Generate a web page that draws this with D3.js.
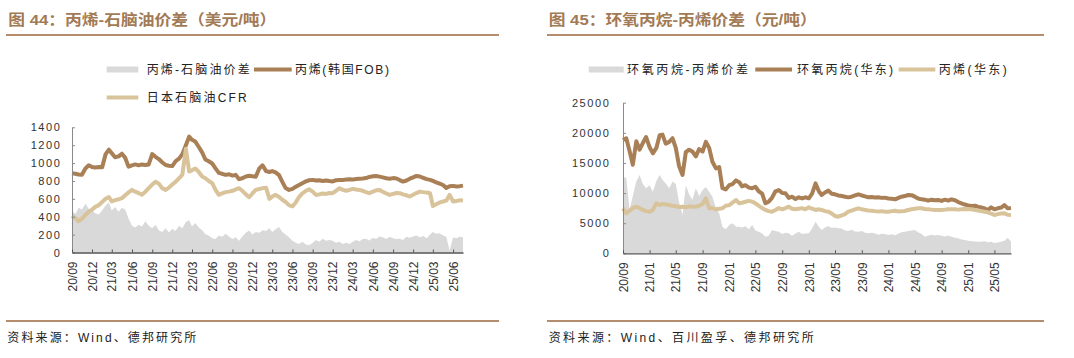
<!DOCTYPE html>
<html><head><meta charset="utf-8">
<script src="https://cdn.jsdelivr.net/npm/d3@7"></script>
<style>
body{margin:0;background:#fff;}
svg{display:block;font-family:"Liberation Sans","Noto Sans CJK SC",sans-serif;}
</style></head>
<body><svg id="c" width="1074" height="358"></svg>
<script>
// ---------- data ----------
const startDate = new Date(2020, 8, 1);   // semi-monthly observations (1st & 16th)
const nObs = 118;

const leftTicks = ["20/09","20/12","21/03","21/06","21/09","21/12","22/03","22/06","22/09","22/12","23/03","23/06","23/09","23/12","24/03","24/06","24/09","24/12","25/03","25/06"];
const leftYTicks = [0,200,400,600,800,1000,1200,1400];
const rightTicks = ["20/09","21/01","21/05","21/09","22/01","22/05","22/09","23/01","23/05","23/09","24/01","24/05","24/09","25/01","25/05"];
const rightYTicks = [0,5000,10000,15000,20000,25000];

const leftSeriesNames = ["丙烯-石脑油价差","丙烯(韩国FOB)","日本石脑油CFR"];
const rightSeriesNames = ["环氧丙烷-丙烯价差","环氧丙烷(华东)","丙烯(华东)"];

// 丙烯(韩国FOB), USD/t
const propyleneFOB = [885,880,872,870,940,975,955,950,955,952,1100,1150,1110,1065,1075,1105,1060,960,975,985,
975,985,978,985,1100,1070,1045,1010,978,970,967,1020,1050,1100,1200,1295,1260,1240,1180,1120,
1040,1020,995,940,890,880,868,875,860,868,820,830,850,858,852,848,940,975,910,900,
910,895,865,790,720,700,712,735,755,775,795,808,812,805,808,800,806,800,795,808,
810,812,815,818,815,822,825,828,832,845,852,856,848,840,830,825,832,828,810,793,
805,825,840,856,850,835,820,812,800,785,770,755,722,740,745,738,742,748];
// 日本石脑油CFR, USD/t
const naphthaCFR = [411,385,350,375,420,455,480,510,530,565,600,620,572,585,595,607,640,672,700,680,
665,645,680,720,760,790,770,720,700,725,760,790,830,870,1160,905,920,940,900,850,
830,800,775,700,645,660,675,681,690,705,719,690,650,618,660,700,710,720,725,600,
625,645,620,590,565,530,515,560,620,660,690,707,680,644,650,660,655,665,663,690,
719,700,690,700,712,705,700,690,675,663,680,695,700,680,660,644,655,665,663,650,
640,626,645,665,681,675,670,663,520,540,560,570,580,644,570,575,585,581];
// 丙烯-石脑油价差, USD/t
const leftSpread = [470,430,500,480,545,490,470,440,425,470,525,560,470,510,455,500,480,380,300,280,
310,290,350,300,270,310,250,230,270,225,265,240,300,270,340,360,290,330,280,250,
205,190,160,150,190,175,210,180,150,170,130,180,220,245,200,230,220,250,240,270,
230,260,285,230,200,170,130,110,95,120,90,80,110,140,120,155,130,140,130,110,
120,95,110,95,120,140,125,150,155,135,165,150,180,170,150,175,160,150,155,140,
175,165,180,190,170,185,160,200,230,210,215,190,175,20,170,160,175,170];

// 环氧丙烷(华东), CNY/t
const poEast = [18800,19100,17000,14700,18600,17200,18300,19300,17600,16600,17500,19600,19700,18200,18500,19100,17500,14500,13000,16800,
17200,16900,16100,17300,16900,18500,17500,15200,14100,14300,10800,10600,11300,11500,12100,11800,11100,11300,10900,10800,
11050,10300,9900,8300,8570,9200,10300,10500,10000,9950,9200,9400,9000,9300,9100,9300,9130,9900,11600,10300,
9680,10100,10400,9900,9800,9600,9500,9400,9290,9400,9600,9790,9600,9450,9290,9350,9250,9300,9200,9240,
9100,9050,8960,9200,9400,9500,9680,9650,9400,9100,8960,8900,8740,8900,8800,8850,8700,8900,8750,8960,
8800,8500,8300,8100,7950,7850,7900,7700,7630,7450,7190,7630,7300,7470,7600,8000,7460,7500];
// 丙烯(华东), CNY/t
const propyleneEast = [7470,6640,7100,7500,7740,7500,7190,7000,6910,7200,8300,8000,8200,8100,8020,7900,7800,7700,7740,7650,
7800,7740,7740,7900,8200,9130,7470,7500,7300,7400,7470,7900,8000,8400,8850,8300,8400,8550,8700,8580,
8300,7900,7500,7200,7000,6910,7200,7500,7300,7500,7740,7400,7300,7400,7500,7300,7630,7400,7200,7300,
7190,7000,6910,6600,6200,6080,6300,6500,6910,7100,7300,7470,7300,7200,7100,7080,7000,6950,7000,6900,
6910,7000,7050,6950,7000,7020,7200,7300,7400,7470,7470,7350,7300,7250,7200,7190,7200,7250,7300,7300,
7300,7250,7300,7350,7300,7300,7200,7100,7000,6910,6800,6600,6360,6500,6600,6640,6400,6360];
// 环氧丙烷-丙烯价差, CNY/t
const rightSpread = [12700,12500,7200,9500,11900,13000,11500,10800,11300,10200,12000,13000,12200,11600,10800,11900,11500,8500,6350,11300,
9800,8850,10800,9500,10500,11000,10200,9400,7500,6650,4420,4000,4700,4970,4400,4420,4300,4500,4000,4700,
3800,3590,3300,2760,2900,3870,3700,3590,3200,3400,3310,2900,3300,3590,3200,3300,3320,4100,5250,4400,
3870,4300,4530,4200,4300,4150,4100,3800,3700,3900,3600,3590,3700,3400,3320,3400,3300,3100,3250,3200,
3040,3150,3000,3300,3500,3590,3700,3800,3870,3500,3200,2760,2900,3100,2950,3040,2900,2800,2950,2760,
2600,2500,2300,2210,2100,2000,1950,1930,1900,2000,1850,1930,1700,1800,1930,2100,2600,1900];

// ---------- drawing ----------
const dates = d3.range(nObs).map(k => {
  const d = d3.timeMonth.offset(startDate, Math.floor(k / 2));
  if (k % 2) d.setDate(16);
  return d;
});
const parseTick = d3.timeParse("%y/%m");

const C = {brown:"#a97f56", tan:"#d9c39b", gray:"#d9d9d9", title:"#a27a55", rule:"#b38d6e", text:"#222"};
const svg = d3.select("#c");
svg.append("rect").attr("width",1074).attr("height",358).attr("fill","#fff");

function panel(o){
  const g = svg.append("g");
  // title
  g.append("text").attr("x",o.titleX).attr("y",25).attr("fill",C.title)
    .attr("font-size",15).attr("font-weight","bold")
    .attr("textLength",o.titleLen).attr("lengthAdjust","spacingAndGlyphs").text(o.title);
  g.append("line").attr("x1",o.ruleX1).attr("x2",o.ruleX2).attr("y1",35).attr("y2",35)
    .attr("stroke",C.rule).attr("stroke-width",2);
  g.append("line").attr("x1",o.ruleX1).attr("x2",o.ruleX2).attr("y1",321).attr("y2",321)
    .attr("stroke",C.rule).attr("stroke-width",2);
  g.append("text").attr("x",o.srcX).attr("y",342).attr("fill",C.text).attr("font-size",12)
    .attr("textLength",o.srcLen).attr("lengthAdjust","spacing").text(o.source);

  // legend
  o.legend.forEach(L => {
    if (L.area) {
      g.append("rect").attr("x",L.x1).attr("width",L.x2-L.x1).attr("y",L.y-3).attr("height",6).attr("fill",L.color);
    } else {
      g.append("line").attr("x1",L.x1).attr("x2",L.x2).attr("y1",L.y).attr("y2",L.y)
        .attr("stroke",L.color).attr("stroke-width",4);
    }
    g.append("text").attr("x",L.tx).attr("y",L.y).attr("dy","0.36em").attr("font-size",12).attr("fill",C.text)
      .attr("textLength",L.tlen).attr("lengthAdjust","spacing").text(L.name);
  });

  const x = d3.scaleTime().domain([dates[0], dates[nObs-1]]).range([o.x0, o.x1]);
  const y = d3.scaleLinear().domain([0, o.yMax]).range([o.yBottom, o.yTop]);

  const area = d3.area().x((d,i)=>x(dates[i])).y0(y(0)).y1(d=>y(d));
  const line = d3.line().x((d,i)=>x(dates[i])).y(d=>y(d));
  g.append("path").datum(o.spread).attr("d",area).attr("fill",C.gray);
  g.append("path").datum(o.s1).attr("d",line).attr("fill","none").attr("stroke",C.brown).attr("stroke-width",4).attr("stroke-linejoin","round");
  g.append("path").datum(o.s2).attr("d",line).attr("fill","none").attr("stroke",C.tan).attr("stroke-width",4).attr("stroke-linejoin","round");

  // y axis
  const ya = g.append("g").attr("transform",`translate(${o.x0},0)`)
    .call(d3.axisLeft(y).tickValues(o.yTicks).tickSize(-3).tickSizeOuter(0).tickPadding(o.yPad).tickFormat(d3.format("d")));
  ya.select(".domain").attr("stroke","#8a8a8a");
  ya.selectAll(".tick line").attr("stroke","#8a8a8a");
  ya.selectAll("text").attr("font-size",11).attr("letter-spacing","1.6px").attr("fill","#333")
    .attr("font-family","'Liberation Sans',Arial,sans-serif");

  // x axis
  const xa = g.append("g").attr("transform",`translate(0,${o.yBottom})`)
    .call(d3.axisBottom(x).tickValues(o.xTicks.map(parseTick)).tickSize(-3).tickSizeOuter(0).tickFormat(d3.timeFormat("%y/%m")));
  xa.select(".domain").attr("stroke","#555").attr("stroke-width",1.3);
  xa.selectAll(".tick line").attr("stroke","#555");
  xa.selectAll("text").attr("transform","rotate(-90)").attr("x",-9).attr("y",0).attr("dy","0.35em")
    .attr("text-anchor","end").attr("font-size",12).attr("fill","#333")
    .attr("font-family","'Liberation Sans',Arial,sans-serif");
}

panel({
  title:"图 44：丙烯-石脑油价差（美元/吨）", titleX:8.3, titleLen:268,
  ruleX1:6, ruleX2:499, source:"资料来源：Wind、德邦研究所", srcX:7.3, srcLen:189,
  legend:[
    {name:leftSeriesNames[0], area:true, color:C.gray, x1:106.7, x2:138.3, y:69.5, tx:146.7, tlen:103},
    {name:leftSeriesNames[1], color:C.brown, x1:254, x2:291.7, y:69.5, tx:295, tlen:94},
    {name:leftSeriesNames[2], color:C.tan, x1:106.7, x2:138.3, y:97.5, tx:146.7, tlen:100}
  ],
  x0:72, x1:463, yBottom:252.5, yTop:127.3, yMax:1400, yTicks:leftYTicks, xTicks:leftTicks, yPad:10.5,
  spread:leftSpread, s1:propyleneFOB, s2:naphthaCFR
});

panel({
  title:"图 45：环氧丙烷-丙烯价差（元/吨）", titleX:548.7, titleLen:268,
  ruleX1:547, ruleX2:1044, source:"资料来源：Wind、百川盈孚、德邦研究所", srcX:548.7, srcLen:265,
  legend:[
    {name:rightSeriesNames[0], area:true, color:C.gray, x1:588.7, x2:623.7, y:69.5, tx:627, tlen:121},
    {name:rightSeriesNames[1], color:C.brown, x1:755.3, x2:792, y:69.5, tx:797, tlen:96},
    {name:rightSeriesNames[2], color:C.tan, x1:898.7, x2:935.3, y:69.5, tx:938.7, tlen:68}
  ],
  x0:623, x1:1011, yBottom:253.3, yTop:102.7, yMax:25000, yTicks:rightYTicks, xTicks:rightTicks, yPad:12.5,
  spread:rightSpread, s1:poEast, s2:propyleneEast
});
</script></body></html>
